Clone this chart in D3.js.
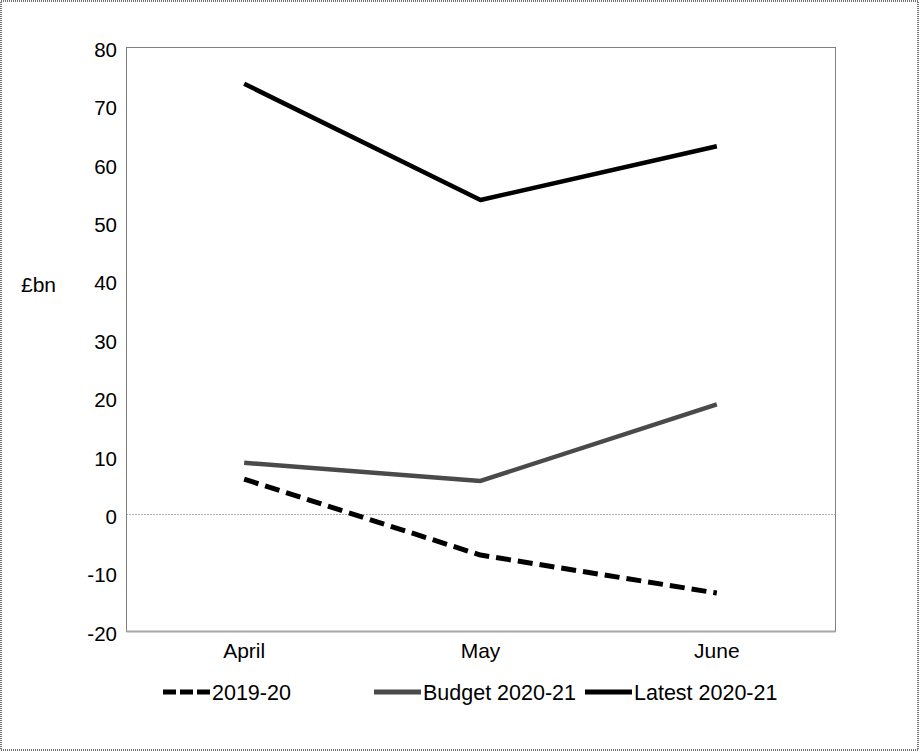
<!DOCTYPE html>
<html>
<head>
<meta charset="utf-8">
<script src="https://cdn.jsdelivr.net/npm/d3@7"></script>
<style>
  html, body { margin: 0; padding: 0; background: #fff; }
  svg { display: block; font-family: "Liberation Sans", Arial, sans-serif; }
</style>
</head>
<body>
<svg id="chart" width="920" height="752"></svg>
<script>
// Monthly borrowing, £bn
const months = ["April", "May", "June"];
const values2019 = [6.0, -7.0, -13.5];
const valuesBudget = [8.8, 5.7, 18.8];
const valuesLatest = [73.7, 53.8, 63.0];
const yTicks = [-20, -10, 0, 10, 20, 30, 40, 50, 60, 70, 80];
const seriesNames = ["2019-20", "Budget 2020-21", "Latest 2020-21"];

const W = 920, H = 752;
const plot = { left: 126, top: 47, right: 835, bottom: 631 };

const svg = d3.select("#chart");

// outer border
svg.append("rect")
  .attr("x", 1).attr("y", 1).attr("width", W - 3).attr("height", H - 3)
  .attr("fill", "none").attr("stroke", "#707070").attr("stroke-width", 2)
  .attr("stroke-dasharray", "1,1");

const x = d3.scaleBand().domain(months).range([plot.left, plot.right]);
const y = d3.scaleLinear().domain([-20, 80]).range([plot.bottom, plot.top]);

// plot frame
svg.append("rect")
  .attr("x", plot.left + 0.5).attr("y", plot.top + 0.5)
  .attr("width", plot.right - plot.left).attr("height", plot.bottom - plot.top)
  .attr("fill", "none").attr("stroke", "#808080").attr("stroke-width", 1);

// zero line
svg.append("line")
  .attr("x1", plot.left).attr("x2", plot.right)
  .attr("y1", Math.round(y(0)) + 0.5).attr("y2", Math.round(y(0)) + 0.5)
  .attr("stroke", "#b0b0b0").attr("stroke-width", 1).attr("stroke-dasharray", "2,1");

// y axis
const yAxis = d3.axisLeft(y).tickValues(yTicks).tickSize(0).tickPadding(9).tickFormat(d => String(d));
const gy = svg.append("g").attr("transform", `translate(${plot.left},0)`).call(yAxis);
gy.select(".domain").attr("stroke", "#808080");
gy.selectAll("text").attr("font-size", 20.5).attr("fill", "#000")
  .attr("font-family", "'Liberation Sans', Arial, sans-serif").attr("dy", "0.45em");

// x axis
const xAxis = d3.axisBottom(x).tickSize(0).tickPadding(12);
const gx = svg.append("g").attr("transform", `translate(0,${plot.bottom})`).call(xAxis);
gx.select(".domain").attr("stroke", "#a6a6a6").attr("stroke-width", 2);
gx.selectAll("text").attr("font-size", 21).attr("fill", "#000")
  .attr("font-family", "'Liberation Sans', Arial, sans-serif");

// y axis unit label
svg.append("text").attr("x", 21).attr("y", 292)
  .attr("font-size", 21).attr("fill", "#000").text("£bn");

const cx = d => x(d) + x.bandwidth() / 2;
const line = d3.line().x((d, i) => cx(months[i])).y(d => y(d));

const styles = [
  { data: values2019, color: "#000", width: 5, dash: "15,7", legendDash: "13,4" },
  { data: valuesBudget, color: "#4a4a4a", width: 4.5, dash: null, legendDash: null },
  { data: valuesLatest, color: "#000", width: 4.5, dash: null, legendDash: null }
];

styles.forEach(s => {
  svg.append("path").datum(s.data)
    .attr("d", line)
    .attr("fill", "none")
    .attr("stroke", s.color)
    .attr("stroke-width", s.width)
    .attr("stroke-dasharray", s.dash)
    .attr("stroke-linejoin", "round");
});

// legend
const legendX = [163, 374, 585];
const legendY = 692;
seriesNames.forEach((name, i) => {
  const s = styles[i];
  const g = svg.append("g").attr("transform", `translate(${legendX[i]},${legendY})`);
  g.append("line").attr("x1", 0).attr("x2", 47).attr("y1", 0).attr("y2", 0)
    .attr("stroke", s.color).attr("stroke-width", 5)
    .attr("stroke-dasharray", s.legendDash);
  g.append("text").attr("x", 49).attr("y", 7.5)
    .attr("font-size", 21.5).attr("fill", "#000").text(name);
});
</script>
</body>
</html>
